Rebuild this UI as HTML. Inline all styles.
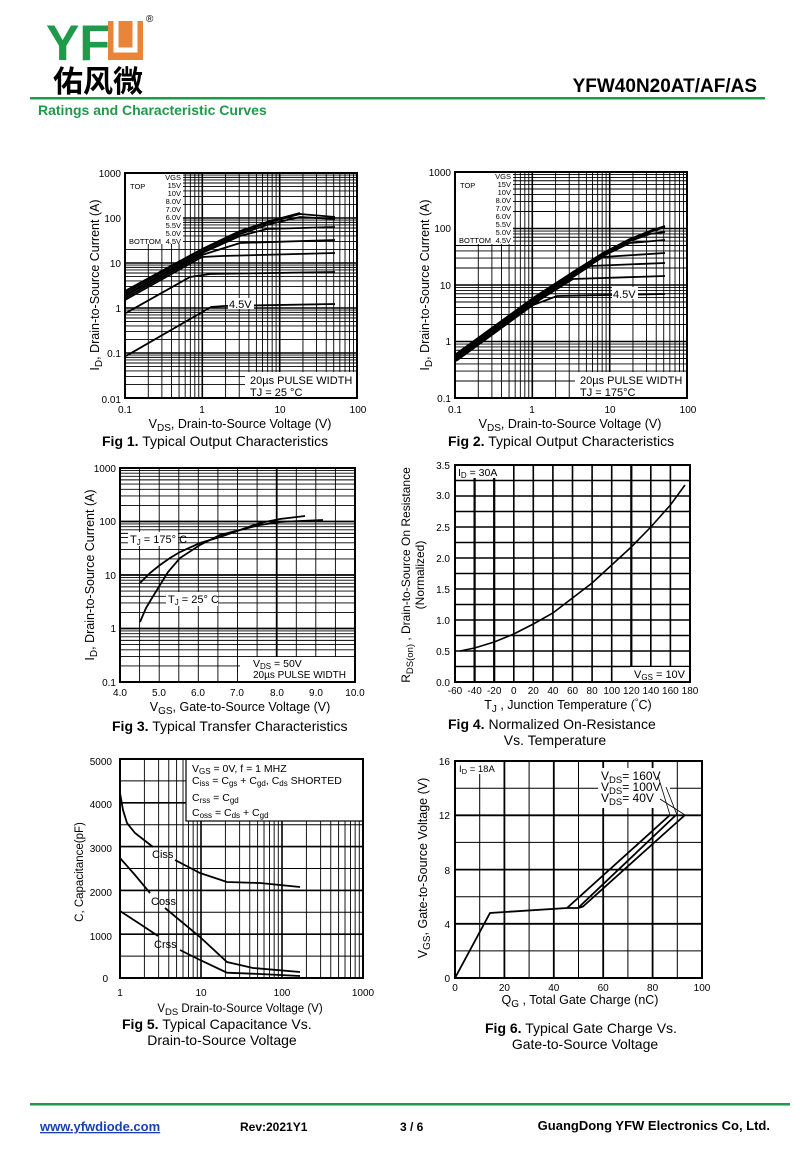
<!DOCTYPE html>
<html><head><meta charset="utf-8"><style>
html,body{margin:0;padding:0;background:#fff}
svg{display:block}
text{font-family:"Liberation Sans","Noto Sans CJK SC",sans-serif;fill:#000}
</style></head><body>
<svg width="800" height="1168" viewBox="0 0 800 1168" xmlns="http://www.w3.org/2000/svg">
<defs>
<path id="v" d="M0 0V1M.301 0V1M.477 0V1M.602 0V1M.699 0V1M.778 0V1M.845 0V1M.903 0V1M.954 0V1" stroke="#000" stroke-width="0.9" vector-effect="non-scaling-stroke" fill="none"/>
<path id="h" d="M0 0H1M0 -.301H1M0 -.477H1M0 -.602H1M0 -.699H1M0 -.778H1M0 -.845H1M0 -.903H1M0 -.954H1" stroke="#000" stroke-width="0.9" vector-effect="non-scaling-stroke" fill="none"/>
</defs>

<!-- Header -->
<text x="46" y="60" font-size="50" font-weight="bold" fill="#1f9a4b" style="fill:#1f9a4b">YF</text>
<rect x="108" y="21" width="35" height="39" fill="#e8853a"/>
<path d="M116 21V50H135V21" fill="none" stroke="#fff" stroke-width="5"/>
<text x="146" y="22" font-size="10">®</text>
<text x="53" y="92" font-size="30" font-family="Noto Sans CJK SC" font-weight="bold">佑风微</text>
<text x="757" y="92" font-size="19" font-weight="bold" text-anchor="end">YFW40N20AT/AF/AS</text>
<rect x="30" y="97" width="735" height="2.5" fill="#1f9a4b"/>
<text x="38" y="115" font-size="14" font-weight="bold" style="fill:#1f9a4b">Ratings and Characteristic Curves</text>

<!-- FIG 1 -->
<g>
<rect x="125" y="173" width="232" height="225" fill="#fff"/>
<use href="#v" transform="translate(125,173) scale(77.33,225)"/>
<use href="#v" transform="translate(202.33,173) scale(77.33,225)"/>
<use href="#v" transform="translate(279.67,173) scale(77.33,225)"/>
<use href="#h" transform="translate(125,398) scale(232,45)"/>
<use href="#h" transform="translate(125,353) scale(232,45)"/>
<use href="#h" transform="translate(125,308) scale(232,45)"/>
<use href="#h" transform="translate(125,263) scale(232,45)"/>
<use href="#h" transform="translate(125,218) scale(232,45)"/>
<path d="M202.3 173V398M279.7 173V398M125 353H357M125 308H357M125 263H357M125 218H357" stroke="#000" stroke-width="1.6"/>
<rect x="126" y="174" width="57" height="70" fill="#fff"/>
<rect x="245" y="372" width="111" height="25" fill="#fff"/>
<rect x="125" y="173" width="232" height="225" fill="none" stroke="#000" stroke-width="2"/>
<g font-size="7.5" text-anchor="end">
<text x="181" y="180">VGS</text><text x="181" y="188">15V</text><text x="181" y="196">10V</text><text x="181" y="204">8.0V</text><text x="181" y="212">7.0V</text><text x="181" y="220">6.0V</text><text x="181" y="228">5.5V</text><text x="181" y="236">5.0V</text><text x="181" y="244">4.5V</text>
</g>
<text x="130" y="189" font-size="7.5">TOP</text><text x="129" y="244" font-size="7.5">BOTTOM</text>
<g fill="none" stroke="#000" stroke-width="1.8">
<polyline points="126,356 211,307 224,306 335,304"/>
<polyline points="126,313 190,277 210,274 335,272"/>
<polyline points="125,300 202,257 222,256 335,253"/>
<polyline points="125,298 202,255 240,243 335,240"/>
<polyline points="125,296 202,253 240,236 267,229 335,227"/>
<polyline points="125,295 202,252 240,234 270,224 300,217 335,219"/>
<polyline points="125,293 202,250 240,232 270,222 300,214 335,217"/>
<polyline points="125,291 202,249 240,231 270,221 300,213"/>
</g>
<rect x="228" y="298" width="26" height="11" fill="#fff"/>
<text x="229" y="308" font-size="11">4.5V</text>
<text x="250" y="384" font-size="11">20µs PULSE WIDTH</text>
<text x="250" y="396" font-size="11">TJ = 25 °C</text>
<g font-size="10" text-anchor="end">
<text x="121" y="177">1000</text><text x="121" y="222">100</text><text x="121" y="267">10</text><text x="121" y="312">1</text><text x="121" y="357">0.1</text><text x="121" y="403">0.01</text>
</g>
<g font-size="10" text-anchor="middle">
<text x="125" y="413">0.1</text><text x="202" y="413">1</text><text x="280" y="413">10</text><text x="358" y="413">100</text>
</g>
<text x="240" y="428" font-size="12.5" text-anchor="middle">V<tspan font-size="10" dy="3">DS</tspan><tspan dy="-3">, Drain-to-Source Voltage (V)</tspan></text>
<text transform="translate(99,285) rotate(-90)" font-size="12.5" text-anchor="middle">I<tspan font-size="10" dy="3">D</tspan><tspan dy="-3">, Drain-to-Source Current (A)</tspan></text>
<text x="102" y="446" font-size="14"><tspan font-weight="bold">Fig 1.</tspan>  Typical Output Characteristics</text>
</g>

<!-- FIG 2 -->
<g>
<use href="#v" transform="translate(455,172) scale(77.33,226)"/>
<use href="#v" transform="translate(532.33,172) scale(77.33,226)"/>
<use href="#v" transform="translate(609.67,172) scale(77.33,226)"/>
<use href="#h" transform="translate(455,398) scale(232,56.5)"/>
<use href="#h" transform="translate(455,341.5) scale(232,56.5)"/>
<use href="#h" transform="translate(455,285) scale(232,56.5)"/>
<use href="#h" transform="translate(455,228.5) scale(232,56.5)"/>
<path d="M532.3 172V398M609.7 172V398M455 341.5H687M455 285H687M455 228.5H687" stroke="#000" stroke-width="1.6"/>
<rect x="456" y="173" width="57" height="71" fill="#fff"/>
<rect x="575" y="372" width="111" height="25" fill="#fff"/>
<rect x="455" y="172" width="232" height="226" fill="none" stroke="#000" stroke-width="2"/>
<g font-size="7.5" text-anchor="end">
<text x="511" y="179">VGS</text><text x="511" y="187">15V</text><text x="511" y="195">10V</text><text x="511" y="203">8.0V</text><text x="511" y="211">7.0V</text><text x="511" y="219">6.0V</text><text x="511" y="227">5.5V</text><text x="511" y="235">5.0V</text><text x="511" y="243">4.5V</text>
</g>
<text x="460" y="188" font-size="7.5">TOP</text><text x="459" y="243" font-size="7.5">BOTTOM</text>
<g fill="none" stroke="#000" stroke-width="1.8">
<polyline points="456,361 533,305 557,296 665,294"/>
<polyline points="456,360 533,304 573,279 665,276"/>
<polyline points="456,359 533,303 573,277 590,266 665,263"/>
<polyline points="456,358 533,302 573,276 603,257 665,253"/>
<polyline points="456,357 533,301 573,275 603,256 630,243 665,240"/>
<polyline points="456,356 533,300 573,274 603,255 630,241 650,234 665,232"/>
<polyline points="456,355 533,299 573,273 603,254 630,240 650,232 665,227"/>
<polyline points="456,354 533,298 573,272 603,253 630,239 650,231 665,226"/>
</g>
<rect x="612" y="287" width="26" height="12" fill="#fff"/>
<text x="613" y="298" font-size="11">4.5V</text>
<text x="580" y="384" font-size="11">20µs PULSE WIDTH</text>
<text x="580" y="396" font-size="11">TJ = 175°C</text>
<g font-size="10" text-anchor="end">
<text x="451" y="176">1000</text><text x="451" y="232">100</text><text x="451" y="289">10</text><text x="451" y="345">1</text><text x="451" y="402">0.1</text>
</g>
<g font-size="10" text-anchor="middle">
<text x="455" y="413">0.1</text><text x="532" y="413">1</text><text x="610" y="413">10</text><text x="688" y="413">100</text>
</g>
<text x="570" y="428" font-size="12.5" text-anchor="middle">V<tspan font-size="10" dy="3">DS</tspan><tspan dy="-3">, Drain-to-Source Voltage (V)</tspan></text>
<text transform="translate(429,285) rotate(-90)" font-size="12.5" text-anchor="middle">I<tspan font-size="10" dy="3">D</tspan><tspan dy="-3">,  Drain-to-Source Current (A)</tspan></text>
<text x="448" y="446" font-size="14"><tspan font-weight="bold">Fig 2.</tspan>  Typical Output Characteristics</text>
</g>

<!-- FIG 3 -->
<g>
<use href="#h" transform="translate(120,682) scale(235,53.5)"/>
<use href="#h" transform="translate(120,628.5) scale(235,53.5)"/>
<use href="#h" transform="translate(120,575) scale(235,53.5)"/>
<use href="#h" transform="translate(120,521.5) scale(235,53.5)"/>
<path d="M139.6 468V682M159.2 468V682M178.8 468V682M198.3 468V682M217.9 468V682M237.5 468V682M257.1 468V682M276.7 468V682M296.3 468V682M315.8 468V682M335.4 468V682" stroke="#000" stroke-width="0.9"/>
<path d="M120 628.5H355M120 575H355M120 521.5H355M276.7 468V682" stroke="#000" stroke-width="1.8"/>
<rect x="240" y="657" width="114" height="24" fill="#fff"/>
<rect x="120" y="468" width="235" height="214" fill="none" stroke="#000" stroke-width="2"/>
<g fill="none" stroke="#000" stroke-width="1.8">
<polyline points="140,583 150,573 160,565 170,558 180,552 200,543 220,537 240,530 260,523 280,519 305,516"/>
<polyline points="140,622 146,608 152,598 160,585 168,572 180,558 200,545 220,535 240,530 260,525 280,522 300,521 323,520"/>
</g>
<rect x="128" y="532" width="50" height="14" fill="#fff"/>
<text x="130" y="543" font-size="11">T<tspan font-size="8" dy="2">J</tspan><tspan dy="-2"> = 175° C</tspan></text>
<rect x="166" y="592" width="52" height="14" fill="#fff"/>
<text x="168" y="603" font-size="11">T<tspan font-size="8" dy="2">J</tspan><tspan dy="-2"> = 25° C</tspan></text>
<text x="253" y="667" font-size="10.5">V<tspan font-size="8" dy="2">DS</tspan><tspan dy="-2"> = 50V</tspan></text>
<text x="253" y="678" font-size="10">20µs PULSE WIDTH</text>
<g font-size="10" text-anchor="end">
<text x="116" y="472">1000</text><text x="116" y="525">100</text><text x="116" y="579">10</text><text x="116" y="632">1</text><text x="116" y="686">0.1</text>
</g>
<g font-size="10" text-anchor="middle">
<text x="120" y="696">4.0</text><text x="159" y="696">5.0</text><text x="198" y="696">6.0</text><text x="237" y="696">7.0</text><text x="277" y="696">8.0</text><text x="316" y="696">9.0</text><text x="355" y="696">10.0</text>
</g>
<text x="240" y="711" font-size="12.5" text-anchor="middle">V<tspan font-size="10" dy="3">GS</tspan><tspan dy="-3">, Gate-to-Source Voltage (V)</tspan></text>
<text transform="translate(94,575) rotate(-90)" font-size="12.5" text-anchor="middle">I<tspan font-size="10" dy="3">D</tspan><tspan dy="-3">,  Drain-to-Source Current (A)</tspan></text>
<text x="112" y="731" font-size="14"><tspan font-weight="bold">Fig 3.</tspan>  Typical Transfer Characteristics</text>
</g>

<!-- FIG 4 -->
<g>
<path d="M474.6 465V682M494.2 465V682M513.8 465V682M533.3 465V682M552.9 465V682M572.5 465V682M592.1 465V682M611.7 465V682M631.3 465V682M650.8 465V682M670.4 465V682" stroke="#000" stroke-width="1.6"/>
<path d="M455 666.5H690M455 651H690M455 635.5H690M455 620H690M455 604.5H690M455 589H690M455 573.5H690M455 558H690M455 542.5H690M455 527H690M455 511.5H690M455 496H690M455 480.5H690" stroke="#000" stroke-width="1.6"/>
<path d="M474.6 465V682M494.2 465V682M631.3 465V682" stroke="#000" stroke-width="2.2"/>
<rect x="455" y="466" width="44" height="12" fill="#fff"/>
<rect x="630" y="667" width="59" height="14" fill="#fff"/>
<rect x="455" y="465" width="235" height="217" fill="none" stroke="#000" stroke-width="2"/>
<polyline fill="none" stroke="#000" stroke-width="1.6" points="460,651 474.6,648 494.2,642 513.8,634 533.3,624 552.9,613 572.5,598 592.1,583 611.7,565 631.3,547 650.8,527 670.4,505 685,485"/>
<text x="458" y="476" font-size="10.5">I<tspan font-size="8" dy="2">D</tspan><tspan dy="-2"> = 30A</tspan></text>
<text x="634" y="678" font-size="11">V<tspan font-size="8" dy="2">GS</tspan><tspan dy="-2"> = 10V</tspan></text>
<g font-size="10" text-anchor="end">
<text x="450" y="469">3.5</text><text x="450" y="499">3.0</text><text x="450" y="531">2.5</text><text x="450" y="562">2.0</text><text x="450" y="593">1.5</text><text x="450" y="624">1.0</text><text x="450" y="655">0.5</text><text x="450" y="686">0.0</text>
</g>
<g font-size="10" text-anchor="middle">
<text x="455" y="694">-60</text><text x="474.6" y="694">-40</text><text x="494.2" y="694">-20</text><text x="513.8" y="694">0</text><text x="533.3" y="694">20</text><text x="552.9" y="694">40</text><text x="572.5" y="694">60</text><text x="592.1" y="694">80</text><text x="611.7" y="694">100</text><text x="631.3" y="694">120</text><text x="650.8" y="694">140</text><text x="670.4" y="694">160</text><text x="690" y="694">180</text>
</g>
<text x="568" y="709" font-size="12.5" text-anchor="middle">T<tspan font-size="10" dy="3">J</tspan><tspan dy="-3"> , Junction Temperature (</tspan><tspan dy="-4" font-size="9">°</tspan><tspan dy="4">C)</tspan></text>
<text transform="translate(410,575) rotate(-90)" font-size="12" text-anchor="middle">R<tspan font-size="9.5" dy="3">DS(on)</tspan><tspan dy="-3"> , Drain-to-Source On Resistance</tspan></text>
<text transform="translate(424,575) rotate(-90)" font-size="12" text-anchor="middle">(Normalized)</text>
<text x="448" y="729" font-size="14"><tspan font-weight="bold">Fig 4.</tspan>  Normalized On-Resistance</text>
<text x="555" y="745" font-size="14" text-anchor="middle">Vs. Temperature</text>
</g>

<!-- FIG 5 -->
<g>
<use href="#v" transform="translate(120,759) scale(81,219)"/>
<use href="#v" transform="translate(201,759) scale(81,219)"/>
<use href="#v" transform="translate(282,759) scale(81,219)"/>
<path d="M120 956.1H363M120 934.2H363M120 912.3H363M120 890.4H363M120 868.5H363M120 846.6H363M120 824.7H363M120 802.8H363M120 780.9H363" stroke="#000" stroke-width="1"/>
<path d="M201 759V978M282 759V978M120 934.2H363M120 890.4H363M120 846.6H363M120 802.8H363" stroke="#000" stroke-width="1.6"/>
<rect x="186" y="759" width="177" height="62" fill="#fff" stroke="#000" stroke-width="1.2"/>
<rect x="120" y="759" width="243" height="219" fill="none" stroke="#000" stroke-width="2"/>
<g font-size="10.5">
<text x="192" y="772">V<tspan font-size="8" dy="2">GS</tspan><tspan dy="-2">   = 0V,      f = 1 MHZ</tspan></text>
<text x="192" y="784">C<tspan font-size="8" dy="2">iss</tspan><tspan dy="-2">  = C</tspan><tspan font-size="8" dy="2">gs</tspan><tspan dy="-2"> + C</tspan><tspan font-size="8" dy="2">gd</tspan><tspan dy="-2">, C</tspan><tspan font-size="8" dy="2">ds</tspan><tspan dy="-2">  SHORTED</tspan></text>
<text x="192" y="801">C<tspan font-size="8" dy="2">rss</tspan><tspan dy="-2">   = C</tspan><tspan font-size="8" dy="2">gd</tspan></text>
<text x="192" y="816">C<tspan font-size="8" dy="2">oss</tspan><tspan dy="-2">  = C</tspan><tspan font-size="8" dy="2">ds</tspan><tspan dy="-2"> + C</tspan><tspan font-size="8" dy="2">gd</tspan></text>
</g>
<g fill="none" stroke="#000" stroke-width="1.8">
<polyline points="120,793 123,810 127,823 135,833 153,847"/>
<polyline points="175,860 200,873 227,882 260,883 300,887"/>
<polyline points="120,858 135,875 150,893"/>
<polyline points="165,908 200,937 227,962 253,968 300,972"/>
<polyline points="120,911 140,924 158,936"/>
<polyline points="180,950 200,960 227,972.7 260,974 300,976"/>
</g>
<text x="152" y="858" font-size="11">Ciss</text>
<text x="151" y="905" font-size="11">Coss</text>
<text x="154" y="948" font-size="11">Crss</text>
<g font-size="10" text-anchor="end">
<text x="112" y="765">5000</text><text x="112" y="808">4000</text><text x="112" y="852">3000</text><text x="112" y="896">2000</text><text x="112" y="940">1000</text><text x="108" y="982">0</text>
</g>
<g font-size="10" text-anchor="middle">
<text x="120" y="996">1</text><text x="201" y="996">10</text><text x="282" y="996">100</text><text x="363" y="996">1000</text>
</g>
<text x="240" y="1012" font-size="11.5" text-anchor="middle">V<tspan font-size="9.5" dy="3">DS</tspan><tspan dy="-3"> Drain-to-Source Voltage (V)</tspan></text>
<text transform="translate(83,872) rotate(-90)" font-size="11.5" text-anchor="middle">C, Capacitance(pF)</text>
<text x="122" y="1029" font-size="14"><tspan font-weight="bold">Fig 5.</tspan>  Typical Capacitance Vs.</text>
<text x="222" y="1045" font-size="14" text-anchor="middle">Drain-to-Source Voltage</text>
</g>

<!-- FIG 6 -->
<g>
<path d="M479.7 761V978M504.4 761V978M529.1 761V978M553.8 761V978M578.5 761V978M603.2 761V978M627.9 761V978M652.6 761V978M677.3 761V978" stroke="#000" stroke-width="1"/>
<path d="M455 950.9H702M455 923.8H702M455 896.7H702M455 869.6H702M455 842.4H702M455 815.3H702M455 788.2H702" stroke="#000" stroke-width="1"/>
<path d="M504.4 761V978M553.8 761V978M603.2 761V978M652.6 761V978M455 923.8H702M455 869.6H702M455 815.3H702" stroke="#000" stroke-width="1.8"/>
<rect x="456" y="762" width="46" height="12" fill="#fff"/>
<rect x="598" y="768" width="72" height="40" fill="#fff"/>
<rect x="455" y="761" width="247" height="217" fill="none" stroke="#000" stroke-width="2"/>
<g fill="none" stroke="#000" stroke-width="1.8">
<polyline points="455,978 490,913 567,908 670,815"/>
<polyline points="567,908 578,908 676,815"/>
<polyline points="578,908 583,906.5 685,815"/>
<polyline points="583,906.5 578,908"/>
</g>
<path d="M658 776L670 815M666 787L677 815M660 799L685 815M670 815H686" fill="none" stroke="#000" stroke-width="0.8"/>
<g font-size="12">
<text x="601" y="780">V<tspan font-size="9.5" dy="3">DS</tspan><tspan dy="-3">= 160V</tspan></text>
<text x="601" y="791">V<tspan font-size="9.5" dy="3">DS</tspan><tspan dy="-3">= 100V</tspan></text>
<text x="601" y="802">V<tspan font-size="9.5" dy="3">DS</tspan><tspan dy="-3">= 40V</tspan></text>
</g>
<text x="459" y="772" font-size="9.5">I<tspan font-size="7.5" dy="2">D</tspan><tspan dy="-2"> = 18A</tspan></text>
<g font-size="10" text-anchor="end">
<text x="450" y="765">16</text><text x="450" y="819">12</text><text x="450" y="874">8</text><text x="450" y="928">4</text><text x="450" y="982">0</text>
</g>
<g font-size="10" text-anchor="middle">
<text x="455" y="991">0</text><text x="504.4" y="991">20</text><text x="553.8" y="991">40</text><text x="603.2" y="991">60</text><text x="652.6" y="991">80</text><text x="702" y="991">100</text>
</g>
<text x="580" y="1004" font-size="12.5" text-anchor="middle">Q<tspan font-size="10" dy="3">G</tspan><tspan dy="-3"> , Total Gate Charge (nC)</tspan></text>
<text transform="translate(427,868) rotate(-90)" font-size="12.5" text-anchor="middle">V<tspan font-size="10" dy="3">GS</tspan><tspan dy="-3">, Gate-to-Source Voltage (V)</tspan></text>
<text x="485" y="1033" font-size="14"><tspan font-weight="bold">Fig 6.</tspan>  Typical Gate Charge Vs.</text>
<text x="585" y="1049" font-size="14" text-anchor="middle">Gate-to-Source Voltage</text>
</g>

<!-- Footer -->
<rect x="30" y="1103" width="760" height="2.5" fill="#1f9a4b"/>
<text x="40" y="1131" font-size="13" font-weight="bold" style="fill:#1a3fb0" text-decoration="underline">www.yfwdiode.com</text>
<text x="240" y="1131" font-size="12" font-weight="bold">Rev:2021Y1</text>
<text x="400" y="1131" font-size="12" font-weight="bold">3 / 6</text>
<text x="770" y="1130" font-size="13" font-weight="bold" text-anchor="end">GuangDong YFW Electronics Co, Ltd.</text>
</svg>
</body></html>
